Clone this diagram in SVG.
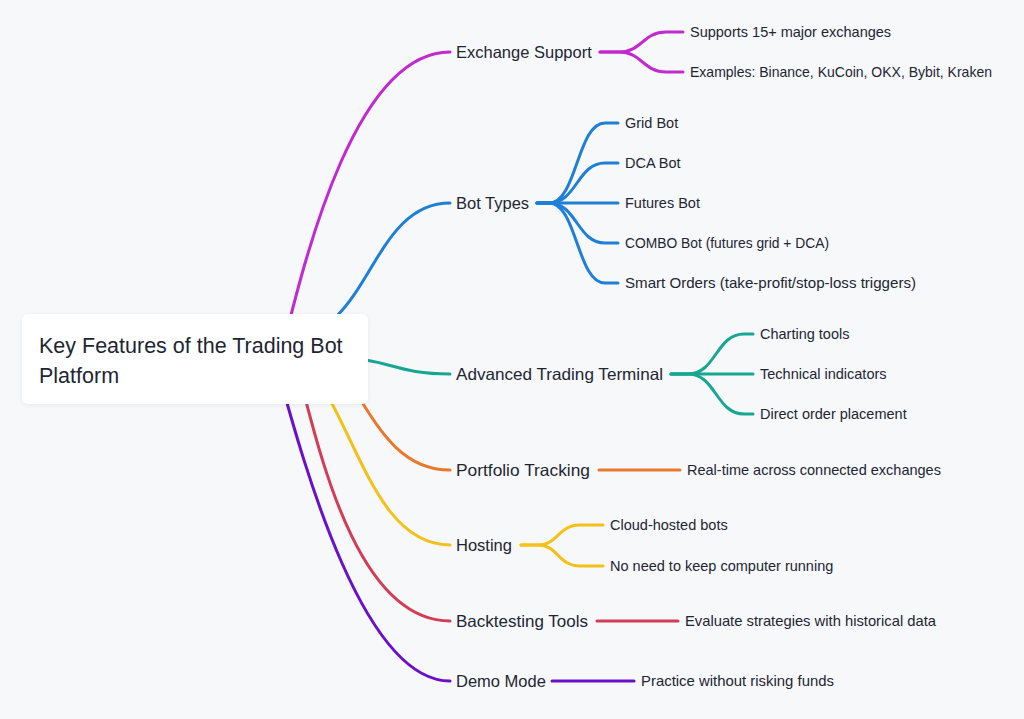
<svg xmlns="http://www.w3.org/2000/svg" width="1024" height="719" viewBox="0 0 1024 719">
<defs>
<style>
.bg{fill:#f7f8fa}
.ln{fill:none;stroke-width:3;stroke-linecap:round;stroke-linejoin:round}
.root{fill:#ffffff}
.rt{font-family:"Liberation Sans",Arial,sans-serif;font-size:21.5px;fill:#1e2633}
.bt{font-family:"Liberation Sans",Arial,sans-serif;font-size:16.5px;fill:#1e2633}
.lt{font-family:"Liberation Sans",Arial,sans-serif;font-size:14.5px;fill:#1e2633}
.c1{stroke:#c02ad0}
.c2{stroke:#1f7fd6}
.c3{stroke:#17a692}
.c4{stroke:#e8782e}
.c5{stroke:#f5c018}
.c6{stroke:#d23c55}
.c7{stroke:#6a10c8}
</style>
<filter id="sh" x="-10%" y="-20%" width="120%" height="140%">
<feDropShadow dx="0" dy="1" stdDeviation="2" flood-color="#000" flood-opacity="0.06"/>
</filter>
</defs>
<rect class="bg" x="0" y="0" width="1024" height="719"/>
<g id="connectors">
<path class="ln c1" d="M280,359 C300,280 350,52 450,52"/>
<path class="ln c2" d="M290,336 C370,336 370,203 450,203"/>
<path class="ln c3" d="M334,358 C392,358 392,374 450,374"/>
<path class="ln c4" d="M275,330 C360,330 360,470 450,470"/>
<path class="ln c5" d="M250,335 C350,335 350,545 450,545"/>
<path class="ln c6" d="M295,360 C314,425 350,621 450,621"/>
<path class="ln c7" d="M275,360 C300,450 360,681 450,681"/>
<path class="ln c1" d="M600,52 H619 C642,52 643,32 666,32 H683"/>
<path class="ln c1" d="M600,52 H619 C642,52 643,72 666,72 H683"/>
<path class="ln c2" d="M537,203 H549 C577,203 577,123 605,123 H618"/>
<path class="ln c2" d="M537,203 H549 C577,203 577,163 605,163 H618"/>
<path class="ln c2" d="M537,203 H618"/>
<path class="ln c2" d="M537,203 H549 C577,203 577,243 605,243 H618"/>
<path class="ln c2" d="M537,203 H549 C577,203 577,283 605,283 H618"/>
<path class="ln c3" d="M671,374 H688 C716,374 716,334 744,334 H753"/>
<path class="ln c3" d="M671,374 H753"/>
<path class="ln c3" d="M671,374 H688 C716,374 716,414 744,414 H753"/>
<path class="ln c4" d="M599,470 H680"/>
<path class="ln c5" d="M521,545 H538 C558,545 558,525 580,525 H603"/>
<path class="ln c5" d="M521,545 H538 C558,545 558,566 580,566 H603"/>
<path class="ln c6" d="M597,621 H678"/>
<path class="ln c7" d="M552,681 H634"/>
</g>
<g id="root">
<rect class="root" x="22" y="314" width="346" height="90" rx="6" filter="url(#sh)"/>
<text class="rt" x="39" y="352.5">Key Features of the Trading Bot</text>
<text class="rt" x="39" y="382.5">Platform</text>
</g>
<g id="exchange-support">
<text class="bt" x="456" y="58">Exchange Support</text>
</g>
<g id="exchange-leaf-1"><text class="lt" x="690" y="37">Supports 15+ major exchanges</text></g>
<g id="exchange-leaf-2"><text class="lt" x="690" y="77" textLength="302" lengthAdjust="spacingAndGlyphs">Examples: Binance, KuCoin, OKX, Bybit, Kraken</text></g>
<g id="bot-types"><text class="bt" x="456" y="209">Bot Types</text></g>
<g id="bot-leaf-1"><text class="lt" x="625" y="128">Grid Bot</text></g>
<g id="bot-leaf-2"><text class="lt" x="625" y="168">DCA Bot</text></g>
<g id="bot-leaf-3"><text class="lt" x="625" y="208">Futures Bot</text></g>
<g id="bot-leaf-4"><text class="lt" x="625" y="248" textLength="204" lengthAdjust="spacingAndGlyphs">COMBO Bot (futures grid + DCA)</text></g>
<g id="bot-leaf-5"><text class="lt" x="625" y="288" textLength="291" lengthAdjust="spacingAndGlyphs">Smart Orders (take-profit/stop-loss triggers)</text></g>
<g id="terminal"><text class="bt" x="456" y="380" textLength="207" lengthAdjust="spacingAndGlyphs">Advanced Trading Terminal</text></g>
<g id="terminal-leaf-1"><text class="lt" x="760" y="339">Charting tools</text></g>
<g id="terminal-leaf-2"><text class="lt" x="760" y="379">Technical indicators</text></g>
<g id="terminal-leaf-3"><text class="lt" x="760" y="419">Direct order placement</text></g>
<g id="portfolio"><text class="bt" x="456" y="476" textLength="134" lengthAdjust="spacingAndGlyphs">Portfolio Tracking</text></g>
<g id="portfolio-leaf"><text class="lt" x="687" y="475">Real-time across connected exchanges</text></g>
<g id="hosting"><text class="bt" x="456" y="551">Hosting</text></g>
<g id="hosting-leaf-1"><text class="lt" x="610" y="530">Cloud-hosted bots</text></g>
<g id="hosting-leaf-2"><text class="lt" x="610" y="571">No need to keep computer running</text></g>
<g id="backtesting"><text class="bt" x="456" y="627" textLength="132" lengthAdjust="spacingAndGlyphs">Backtesting Tools</text></g>
<g id="backtesting-leaf"><text class="lt" x="685" y="626" textLength="251" lengthAdjust="spacingAndGlyphs">Evaluate strategies with historical data</text></g>
<g id="demo"><text class="bt" x="456" y="687">Demo Mode</text></g>
<g id="demo-leaf"><text class="lt" x="641" y="686" textLength="193" lengthAdjust="spacingAndGlyphs">Practice without risking funds</text></g>
</svg>
